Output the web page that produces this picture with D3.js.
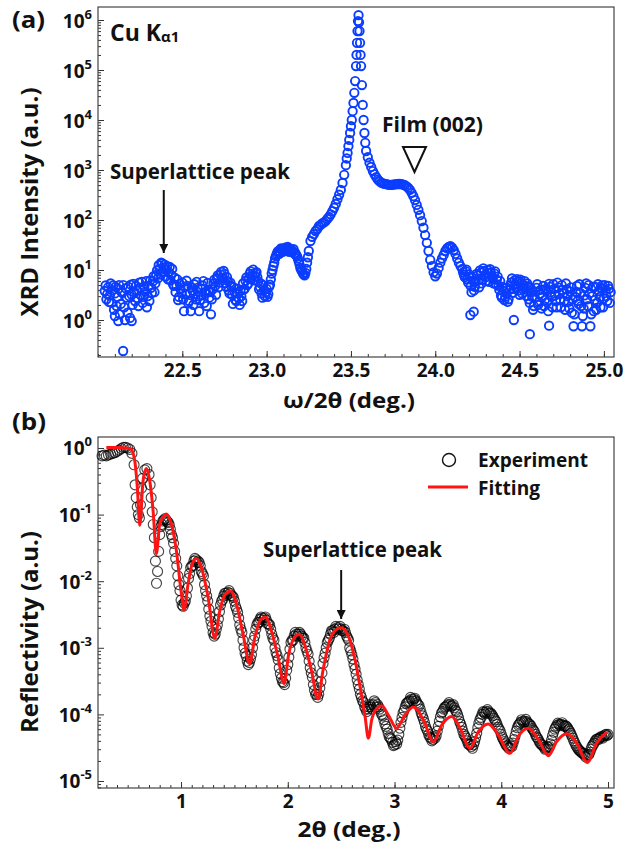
<!DOCTYPE html>
<html><head><meta charset="utf-8">
<script src="https://cdn.jsdelivr.net/npm/d3@7"></script>
<style>
html,body{margin:0;padding:0;background:#fff;}
svg{display:block;}
text{font-family:"Open Sans",sans-serif;font-weight:700;fill:#111;}
</style></head><body>
<svg id="chart" width="626" height="851"></svg>
<script>
// ---------- Panel (a): XRD omega/2theta scan ----------
const xrdScan = [
[22.04,3.8],[22.05,2.6],[22.06,4.5],[22.07,3.1],[22.08,2.2],[22.09,4.9],[22.10,3.4],[22.11,1.9],[22.12,4.2],[22.13,1.3],
[22.14,3.6],[22.15,5.0],[22.16,1.0],[22.17,2.8],[22.18,4.6],[22.19,1.1],[22.20,3.2],[22.21,5.3],[22.22,2.4],[22.23,3.9],
[22.24,1.9],[22.25,4.4],[22.26,5.8],[22.27,2.9],[22.28,3.7],[22.29,1.8],[22.30,4.8],[22.31,6.2],[22.32,3.5],[22.33,7.5],
[22.34,5.4],[22.35,9.8],[22.36,12.5],[22.37,8.1],[22.38,13.5],[22.39,11.2],[22.40,7.4],[22.41,12.0],[22.42,9.0],[22.43,6.2],
[22.44,10.5],[22.45,4.8],[22.46,3.6],[22.47,6.5],[22.48,2.9],[22.49,4.1],[22.50,5.6],[22.51,1.5],[22.52,3.3],[22.53,4.8],
[22.54,2.4],[22.55,1.5],[22.56,3.9],[22.57,5.2],[22.58,2.6],[22.59,4.4],[22.60,1.5],[22.61,3.1],[22.62,4.9],[22.63,2.2],
[22.64,3.7],[22.65,5.5],[22.66,2.8],[22.67,1.3],[22.68,4.1],[22.69,6.4],[22.70,3.2],[22.71,7.8],[22.72,5.6],[22.73,9.2],
[22.74,6.9],[22.75,8.4],[22.76,4.6],[22.77,6.0],[22.78,3.4],[22.79,4.8],[22.80,2.1],[22.81,3.6],[22.82,2.4],[22.83,4.2],
[22.84,2.0],[22.85,3.0],[22.86,5.4],[22.87,4.2],[22.88,7.1],[22.89,5.3],[22.90,8.5],[22.91,6.6],[22.92,10.2],[22.93,7.4],
[22.94,9.1],[22.95,5.9],[22.96,4.6],[22.97,3.4],[22.98,5.0],[22.99,3.0],[23.00,4.2],[23.01,3.3],[23.02,5.1],[23.03,8.5],
[23.04,12],[23.05,17],[23.06,21],[23.07,24],[23.08,22],[23.09,26],[23.10,25],[23.11,28],[23.12,24],[23.13,27],
[23.14,25],[23.15,23],[23.16,26],[23.17,22],[23.18,19],[23.19,15],[23.20,11],[23.21,9.5],[23.22,8.2],[23.23,8.8],
[23.24,14],[23.25,24],[23.26,38],[23.27,46],[23.28,52],[23.29,60],[23.30,66],[23.31,75],[23.32,80],[23.33,86],
[23.34,90],[23.35,95],[23.36,105],[23.37,115],[23.38,130],[23.39,150],[23.40,175],[23.41,210],[23.42,260],[23.43,320],
[23.44,400],[23.45,550],[23.46,800],[23.47,1250],[23.475,1700],[23.48,2200],[23.485,3000],[23.49,4000],[23.495,5500],[23.50,7500],
[23.505,1.0e4],[23.51,1.5e4],[23.515,2.2e4],[23.52,3.5e4],[23.525,6e4],[23.53,1.2e5],[23.533,2.0e5],[23.536,3.5e5],[23.539,6e5],[23.542,9.5e5],
[23.545,1.25e6],[23.548,9e5],[23.551,6e5],[23.554,3.5e5],[23.557,2.0e5],[23.56,1.2e5],[23.565,5e4],[23.57,2e4],[23.575,1e4],[23.58,5500],
[23.585,3500],[23.59,2400],[23.60,1800],[23.61,1400],[23.62,1150],[23.63,950],[23.64,820],[23.65,720],[23.66,640],[23.67,590],
[23.68,560],[23.69,540],[23.70,530],[23.71,520],[23.72,510],[23.73,505],[23.74,505],[23.75,510],[23.76,515],[23.77,520],
[23.78,525],[23.79,525],[23.80,520],[23.81,510],[23.82,495],[23.83,470],[23.84,440],[23.85,400],[23.86,350],[23.87,300],
[23.88,250],[23.89,200],[23.90,160],[23.91,125],[23.92,95],[23.93,70],[23.94,50],[23.95,35],[23.96,24],[23.97,16],
[23.98,12],[23.99,9],[24.00,7.5],[24.01,8.5],[24.02,11],[24.03,14],[24.04,17],[24.05,20],[24.06,24],[24.07,27],
[24.08,29],[24.09,30],[24.10,28],[24.11,25],[24.12,21],[24.13,17],[24.14,14],[24.15,12],[24.16,10.5],[24.17,8.0],
[24.18,9.5],[24.19,6.5],[24.20,8.2],[24.21,4.8],[24.22,7.0],[24.23,3.9],[24.24,5.9],[24.25,7.8],[24.26,4.5],[24.27,8.9],
[24.28,6.4],[24.29,9.6],[24.30,7.2],[24.31,10.0],[24.32,5.8],[24.33,9.0],[24.34,6.9],[24.35,8.6],[24.36,5.2],[24.37,7.4],
[24.38,4.0],[24.39,3.1],[24.40,4.6],[24.41,2.5],[24.42,3.4],[24.43,2.3],[24.44,4.0],[24.45,5.6],[24.46,3.5],[24.47,6.2],
[24.48,4.4],[24.49,5.9],[24.50,3.2],[24.51,5.5],[24.52,4.1],[24.53,6.0],[24.54,3.0],[24.55,4.7],[24.56,2.2],[24.57,3.6],
[24.58,1.6],[24.59,2.8],[24.60,4.4],[24.61,2.0],[24.62,3.3],[24.63,1.7],[24.64,4.8],[24.65,2.5],[24.66,3.9],[24.67,1.5],
[24.68,4.6],[24.69,2.9],[24.70,5.2],[24.71,3.1],[24.72,1.8],[24.73,4.5],[24.74,2.6],[24.75,5.0],[24.76,3.4],[24.77,1.6],
[24.78,4.1],[24.79,2.3],[24.80,3.7],[24.81,1.4],[24.82,0.75],[24.83,2.9],[24.84,4.8],[24.85,2.1],[24.86,3.5],[24.87,0.75],
[24.88,1.7],[24.89,4.4],[24.90,2.6],[24.91,5.0],[24.92,0.75],[24.93,3.0],[24.94,1.5],[24.95,4.6],[24.96,2.2],[24.97,3.8],
[24.98,1.8],[24.99,4.9],[25.00,2.7],[25.01,3.9],[25.02,2.4],[25.03,4.2],[25.04,3.6]
];
// intermediate scan points in the noisy / plateau regions
const xrdScanFill = [
[22.045,4.9],[22.055,3.3],[22.065,2.3],[22.075,5.4],[22.085,3.9],[22.095,1.6],[22.105,4.6],[22.115,2.9],[22.125,5.0],[22.135,2.1],
[22.145,3.5],[22.155,1.8],[22.165,4.3],[22.175,1.4],[22.185,3.0],[22.195,5.1],[22.205,2.0],[22.215,3.6],[22.225,4.8],[22.235,2.7],
[22.245,5.6],[22.255,3.1],[22.265,2.2],[22.275,4.7],[22.285,6.0],[22.295,3.0],[22.305,2.4],[22.315,4.4],[22.325,5.9],[22.335,3.6],
[22.345,8.0],[22.355,6.8],[22.365,10.5],[22.375,14.0],[22.385,9.2],[22.395,12.8],[22.405,10.0],[22.415,6.5],[22.425,11.5],[22.435,8.0],
[22.445,5.2],[22.455,7.0],[22.465,4.9],[22.475,2.5],[22.485,5.3],[22.495,3.4],[22.505,2.6],[22.515,4.6],[22.525,6.1],[22.535,2.2],
[22.545,3.5],[22.555,4.5],[22.565,2.0],[22.575,3.3],[22.585,5.8],[22.595,3.0],[22.605,2.5],[22.615,4.2],[22.625,6.0],[22.635,3.4],
[22.645,1.9],[22.655,4.0],[22.665,3.6],[22.675,2.6],[22.685,5.4],[22.695,4.8],[22.705,6.9],[22.715,4.5],[22.725,8.2],[22.735,7.0],
[22.745,9.6],[22.755,5.5],[22.765,7.2],[22.775,3.9],[22.785,5.6],[22.795,3.2],[22.805,4.5],[22.815,2.5],[22.825,3.4],[22.835,2.7],
[22.845,3.8],[22.855,2.4],[22.865,4.1],[22.875,6.1],[22.885,5.0],[22.895,6.8],[22.905,9.4],[22.915,8.0],[22.925,6.2],[22.935,8.6],
[22.945,7.2],[22.955,4.1],[22.965,5.4],[22.975,2.8],[22.985,4.0],[22.995,3.6],[23.005,2.9],[23.015,4.6],[23.025,6.5],[23.035,10.0],
[23.045,14],[23.055,19],[23.065,23],[23.075,21],[23.085,27],[23.095,23],[23.105,27],[23.115,25],[23.125,29],[23.135,23],
[23.145,26],[23.155,24],[23.165,21],[23.175,20],[23.185,17],[23.195,13],[23.205,10],[23.215,8.6],[23.225,7.8],[23.235,10.5],[23.245,18],
[24.165,9.0],[24.175,7.2],[24.185,10.2],[24.195,5.6],[24.205,7.4],[24.215,3.6],[24.225,6.1],[24.235,4.6],[24.245,8.4],[24.255,6.2],
[24.265,9.8],[24.275,5.4],[24.285,10.8],[24.295,8.0],[24.305,6.0],[24.315,8.6],[24.325,10.4],[24.335,7.6],[24.345,5.4],[24.355,9.4],
[24.365,6.4],[24.375,4.8],[24.385,6.0],[24.395,2.8],[24.405,3.8],[24.415,2.9],[24.425,4.4],[24.435,2.6],[24.445,4.9],[24.455,6.8],
[24.465,4.2],[24.475,5.2],[24.485,6.6],[24.495,3.9],[24.505,6.4],[24.515,3.4],[24.525,5.0],[24.535,4.4],[24.545,5.4],[24.555,2.6],
[24.565,4.4],[24.575,2.9],[24.585,1.9],[24.595,3.7],[24.605,5.2],[24.615,2.3],[24.625,4.0],[24.635,2.9],[24.645,1.9],[24.655,4.2],
[24.665,2.3],[24.675,5.3],[24.685,3.6],[24.695,1.8],[24.705,4.2],[24.715,2.4],[24.725,5.6],[24.735,3.3],[24.745,1.8],[24.755,4.0],
[24.765,2.4],[24.775,5.4],[24.785,3.0],[24.795,1.7],[24.805,4.5],[24.815,2.6],[24.825,1.3],[24.835,3.6],[24.845,2.4],[24.855,5.2],
[24.865,1.9],[24.875,1.2],[24.885,3.1],[24.895,5.4],[24.905,1.9],[24.915,3.4],[24.925,1.3],[24.935,4.6],[24.945,2.5],[24.955,1.6],
[24.965,5.2],[24.975,2.9],[24.985,4.4],[24.995,1.8],[25.005,5.0],[25.015,3.0],[25.025,4.8],[25.035,2.2]
];
const xrdOutliers = [
[22.149,0.24],[22.10,1.2],[22.12,0.95],[22.20,0.95],[24.208,1.26],[24.228,1.47],[24.466,1.0],[24.561,0.52],[24.675,0.77]
];
const xrdXTicks = [22.5, 23.0, 23.5, 24.0, 24.5, 25.0];
const xrdXTickLabels = ["22.5","23.0","23.5","24.0","24.5","25.0"];
const xrdYTicks = [1, 10, 100, 1e3, 1e4, 1e5, 1e6];
const xrdYTickExponents = ["0","1","2","3","4","5","6"];

// ---------- Panel (b): X-ray reflectivity ----------
const xrrExperiment = [
[0.26,0.76],[0.28,0.78],[0.30,0.76],[0.32,0.79],[0.34,0.81],[0.36,0.83],[0.38,0.85],[0.40,0.89],[0.42,0.93],[0.44,0.98],
[0.46,1.02],[0.48,1.02],[0.50,1.0],[0.52,0.95],[0.54,0.83],[0.56,0.56],[0.57,0.28],[0.58,0.18],[0.59,0.13],[0.60,0.10],
[0.61,0.089],[0.62,0.14],[0.63,0.25],[0.64,0.35],[0.66,0.47],[0.68,0.49],[0.70,0.40],[0.71,0.28],[0.72,0.18],[0.73,0.11],
[0.74,0.071],[0.75,0.045],[0.76,0.020],[0.77,0.0093],[0.78,0.014],[0.79,0.028],[0.80,0.050],[0.82,0.071],[0.84,0.083],[0.86,0.083],
[0.88,0.076],[0.90,0.060],[0.92,0.045],[0.94,0.028],[0.96,0.017],[0.98,0.0089],[1.00,0.0052],[1.02,0.0042],[1.04,0.0050],[1.06,0.0079],
[1.08,0.013],[1.10,0.017],[1.12,0.020],[1.14,0.021],[1.16,0.020],[1.18,0.017],[1.20,0.013],[1.22,0.0089],[1.24,0.0060],[1.26,0.0038],
[1.28,0.0025],[1.30,0.0017],[1.32,0.0016],[1.34,0.0022],[1.36,0.0035],[1.38,0.0050],[1.40,0.0060],[1.42,0.0066],[1.44,0.0068],[1.46,0.0066],
[1.48,0.0060],[1.50,0.0050],[1.52,0.0038],[1.54,0.0028],[1.56,0.0019],[1.58,0.0013],[1.60,0.00083],[1.62,0.00063],[1.64,0.00060],[1.66,0.00079],
[1.68,0.0013],[1.70,0.0019],[1.72,0.0024],[1.74,0.0027],[1.76,0.0028],[1.78,0.0028],[1.80,0.0026],[1.82,0.0023],[1.84,0.0019],[1.86,0.0014],
[1.88,0.0010],[1.90,0.00076],[1.92,0.00050],[1.94,0.00035],[1.96,0.00030],[1.98,0.00035],[2.00,0.00056],[2.02,0.00095],[2.04,0.0013],[2.06,0.0015],
[2.08,0.0016],[2.10,0.0016],[2.12,0.0016],[2.14,0.0014],[2.16,0.0012],[2.18,0.00089],[2.20,0.00063],[2.22,0.00042],[2.24,0.00028],[2.26,0.00020],
[2.28,0.00018],[2.30,0.00025],[2.32,0.00042],[2.34,0.00071],[2.36,0.0010],[2.38,0.0013],[2.40,0.0016],[2.42,0.0018],[2.44,0.0019],[2.46,0.0020],
[2.48,0.0020],[2.50,0.0019],[2.52,0.0018],[2.54,0.0017],[2.56,0.0014],[2.58,0.0010],[2.60,0.00079],[2.62,0.00056],[2.64,0.00040],[2.66,0.00028],
[2.68,0.00020],[2.70,0.00016],[2.72,0.00013],[2.74,0.00011],[2.76,0.00013],[2.78,0.00013],[2.80,0.00014],[2.82,0.00015],[2.84,0.00014],[2.86,0.00012],
[2.88,0.00010],[2.90,8.3e-5],[2.92,6.6e-5],[2.94,5.2e-5],[2.96,4.4e-5],[2.98,3.8e-5],[3.00,3.5e-5],[3.02,3.6e-5],[3.04,5.0e-5],[3.06,7.6e-5],
[3.08,1.05e-4],[3.10,1.3e-4],[3.12,1.5e-4],[3.14,1.6e-4],[3.16,1.7e-4],[3.18,1.7e-4],[3.20,1.6e-4],[3.22,1.4e-4],[3.24,1.2e-4],[3.26,9.5e-5],
[3.28,7.6e-5],[3.30,6.0e-5],[3.32,5.0e-5],[3.34,4.4e-5],[3.36,4.2e-5],[3.38,4.4e-5],[3.40,5.6e-5],[3.42,7.9e-5],[3.44,1.05e-4],[3.46,1.2e-4],
[3.48,1.3e-4],[3.50,1.4e-4],[3.52,1.4e-4],[3.54,1.35e-4],[3.56,1.26e-4],[3.58,1.1e-4],[3.60,8.9e-5],[3.62,7.1e-5],[3.64,5.6e-5],[3.66,4.7e-5],
[3.68,4.0e-5],[3.70,3.5e-5],[3.72,3.3e-5],[3.74,3.5e-5],[3.76,4.5e-5],[3.78,6.3e-5],[3.80,8.3e-5],[3.82,1.0e-4],[3.84,1.07e-4],[3.86,1.1e-4],
[3.88,1.1e-4],[3.90,1.05e-4],[3.92,9.5e-5],[3.94,8.3e-5],[3.96,7.1e-5],[3.98,6.0e-5],[4.00,5.0e-5],[4.02,4.2e-5],[4.04,3.6e-5],[4.06,3.3e-5],
[4.08,3.2e-5],[4.10,3.3e-5],[4.12,4.2e-5],[4.14,5.6e-5],[4.16,6.9e-5],[4.18,7.6e-5],[4.20,7.9e-5],[4.22,7.9e-5],[4.24,7.8e-5],[4.26,7.2e-5],
[4.28,6.6e-5],[4.30,5.8e-5],[4.32,5.0e-5],[4.34,4.4e-5],[4.36,3.8e-5],[4.38,3.5e-5],[4.40,3.2e-5],[4.42,3.1e-5],[4.44,3.2e-5],[4.46,3.6e-5],
[4.48,4.8e-5],[4.50,6.0e-5],[4.52,6.8e-5],[4.54,7.1e-5],[4.56,7.1e-5],[4.58,6.9e-5],[4.60,6.8e-5],[4.62,6.3e-5],[4.64,5.6e-5],[4.66,4.8e-5],
[4.68,4.0e-5],[4.70,3.4e-5],[4.72,3.0e-5],[4.74,2.8e-5],[4.76,2.6e-5],[4.78,2.5e-5],[4.80,2.4e-5],[4.82,2.5e-5],[4.84,3.0e-5],[4.86,3.5e-5],
[4.88,4.0e-5],[4.90,4.3e-5],[4.92,4.4e-5],[4.94,4.6e-5],[4.96,4.7e-5],[4.98,5.0e-5],[5.00,5.0e-5]
];
// intermediate measured points (band spread)
const xrrExperimentFill = [
[0.81,0.066],[0.83,0.080],[0.85,0.087],[0.87,0.078],[0.89,0.070],[0.91,0.050],[0.93,0.037],[0.95,0.022],[0.97,0.012],[0.99,0.0072],
[1.01,0.0044],[1.03,0.0047],[1.05,0.0060],[1.07,0.011],[1.09,0.016],[1.11,0.017],[1.13,0.022],[1.15,0.019],[1.17,0.019],[1.19,0.014],
[1.21,0.012],[1.23,0.0072],[1.25,0.0050],[1.27,0.0030],[1.29,0.0021],[1.31,0.0015],[1.33,0.0019],[1.35,0.0027],[1.37,0.0044],[1.39,0.0053],
[1.41,0.0066],[1.43,0.0062],[1.45,0.0072],[1.47,0.0061],[1.49,0.0057],[1.51,0.0042],[1.53,0.0034],[1.55,0.0022],[1.57,0.0017],[1.59,0.0010],
[1.61,0.00075],[1.63,0.00056],[1.65,0.00068],[1.67,0.0010],[1.69,0.0015],[1.71,0.0022],[1.73,0.0024],[1.75,0.0029],[1.77,0.0026],[1.79,0.0029],
[1.81,0.0023],[1.83,0.0022],[1.85,0.0016],[1.87,0.0013],[1.89,0.00085],[1.91,0.00066],[1.93,0.00041],[1.95,0.00031],[1.97,0.00028],[1.99,0.00046],
[2.01,0.00072],[2.03,0.0012],[2.05,0.0013],[2.07,0.0017],[2.09,0.0015],[2.11,0.0017],[2.13,0.0015],[2.15,0.0014],[2.17,0.0010],[2.19,0.00080],
[2.21,0.00050],[2.23,0.00036],[2.25,0.00023],[2.27,0.00020],[2.29,0.00020],[2.31,0.00031],[2.33,0.00058],[2.35,0.00083],[2.37,0.0012],[2.39,0.0014],
[2.41,0.0018],[2.43,0.0017],[2.45,0.0021],[2.47,0.0019],[2.49,0.0021],[2.51,0.0018],[2.53,0.0019],[2.55,0.0015],[2.57,0.0013],[2.59,0.00090],
[2.61,0.00068],[2.63,0.00048],[2.65,0.00033],[2.67,0.00024],[2.69,0.00018],[2.71,0.00015],[2.73,0.00012],[2.75,0.00012],[2.77,0.00014],[2.79,0.00012],
[2.81,0.00016],[2.83,0.00013],[2.85,0.00013],[2.87,0.00011],[2.89,9.5e-5],[2.91,7.2e-5],[2.93,6.0e-5],[2.95,4.6e-5],[2.97,4.2e-5],[2.99,3.4e-5],
[3.01,3.9e-5],[3.03,4.1e-5],[3.05,6.2e-5],[3.07,9.0e-5],[3.09,1.15e-4],[3.11,1.45e-4],[3.13,1.55e-4],[3.15,1.8e-4],[3.17,1.6e-4],[3.19,1.75e-4],
[3.21,1.5e-4],[3.23,1.35e-4],[3.25,1.05e-4],[3.27,8.6e-5],[3.29,6.6e-5],[3.31,5.6e-5],[3.33,4.6e-5],[3.35,4.0e-5],[3.37,4.6e-5],[3.39,4.8e-5],
[3.41,6.6e-5],[3.43,9.2e-5],[3.45,1.1e-4],[3.47,1.28e-4],[3.49,1.35e-4],[3.51,1.5e-4],[3.53,1.32e-4],[3.55,1.4e-4],[3.57,1.15e-4],[3.59,1.0e-4],
[3.61,7.8e-5],[3.63,6.4e-5],[3.65,5.0e-5],[3.67,4.4e-5],[3.69,3.6e-5],[3.71,3.6e-5],[3.73,3.1e-5],[3.75,3.9e-5],[3.77,5.2e-5],[3.79,7.4e-5],
[3.81,9.0e-5],[3.83,1.1e-4],[3.85,1.02e-4],[3.87,1.18e-4],[3.89,1.04e-4],[3.91,1.0e-4],[3.93,8.8e-5],[3.95,7.8e-5],[3.97,6.4e-5],[3.99,5.6e-5],
[4.01,4.5e-5],[4.03,3.9e-5],[4.05,3.4e-5],[4.07,3.1e-5],[4.09,3.4e-5],[4.11,3.7e-5],[4.13,4.8e-5],[4.15,6.3e-5],[4.17,7.2e-5],[4.19,8.3e-5],
[4.21,7.5e-5],[4.23,8.4e-5],[4.25,7.4e-5],[4.27,7.0e-5],[4.29,6.1e-5],[4.31,5.5e-5],[4.33,4.6e-5],[4.35,4.1e-5],[4.37,3.6e-5],[4.39,3.4e-5],
[4.41,3.0e-5],[4.43,3.3e-5],[4.45,3.3e-5],[4.47,4.1e-5],[4.49,5.4e-5],[4.51,6.4e-5],[4.53,7.4e-5],[4.55,6.8e-5],[4.57,7.5e-5],[4.59,6.6e-5],
[4.61,6.6e-5],[4.63,5.9e-5],[4.65,5.2e-5],[4.67,4.4e-5],[4.69,3.7e-5],[4.71,3.2e-5],[4.73,2.9e-5],[4.75,2.7e-5],[4.77,2.6e-5],[4.79,2.3e-5],
[4.81,2.5e-5],[4.83,2.7e-5],[4.85,3.3e-5],[4.87,3.7e-5],[4.89,4.2e-5],[4.91,4.2e-5],[4.93,4.6e-5],[4.95,4.4e-5],[4.97,4.9e-5],[4.99,4.8e-5]
];
const xrrFit = [
[0.30,1.02],[0.40,1.02],[0.50,1.0],[0.53,0.97],[0.566,0.65],[0.59,0.26],[0.613,0.069],[0.644,0.32],[0.675,0.49],[0.707,0.32],
[0.738,0.115],[0.769,0.026],[0.80,0.072],[0.831,0.091],[0.862,0.102],[0.909,0.072],[0.956,0.029],[1.003,0.0065],[1.028,0.0037],[1.066,0.0091],
[1.103,0.018],[1.144,0.022],[1.19,0.016],[1.253,0.0058],[1.316,0.0014],[1.363,0.0036],[1.41,0.0062],[1.465,0.0071],[1.518,0.0046],[1.581,0.0016],
[1.643,0.00058],[1.69,0.0014],[1.737,0.0025],[1.79,0.0029],[1.846,0.0018],[1.909,0.00072],[1.965,0.00029],[2.009,0.00081],[2.059,0.0014],[2.112,0.0016],
[2.159,0.0011],[2.221,0.00046],[2.283,0.00017],[2.33,0.00046],[2.393,0.0013],[2.44,0.0018],[2.496,0.0020],[2.567,0.0015],[2.63,0.00066],[2.677,0.00026],
[2.724,9.3e-5],[2.755,4.4e-5],[2.786,8.3e-5],[2.833,1.23e-4],[2.88,1.35e-4],[2.942,9.8e-5],[3.02,6.2e-5],[3.098,9.8e-5],[3.176,1.29e-4],[3.27,8.3e-5],
[3.364,3.9e-5],[3.442,6.9e-5],[3.536,9.3e-5],[3.614,6.2e-5],[3.707,3.1e-5],[3.785,5.5e-5],[3.879,7.2e-5],[3.972,4.9e-5],[4.082,2.6e-5],[4.16,4.7e-5],
[4.253,6.2e-5],[4.347,4.2e-5],[4.441,2.4e-5],[4.519,3.9e-5],[4.613,5.1e-5],[4.707,3.7e-5],[4.806,1.9e-5],[4.894,3.7e-5],[4.988,5.4e-5]
];
const xrrXTicks = [1, 2, 3, 4, 5];
const xrrXTickLabels = ["1","2","3","4","5"];
const xrrYTicks = [1, 0.1, 0.01, 1e-3, 1e-4, 1e-5];
const xrrYTickExponents = ["0","-1","-2","-3","-4","-5"];
const legendLabels = ["Experiment", "Fitting"];

// ---------- drawing ----------
const svg = d3.select("#chart");
const boxA = {l:98, r:614, t:7, b:357};
const boxB = {l:98, r:614, t:437, b:788};

const xA = d3.scaleLinear().domain([22.0, 25.06]).range([boxA.l, boxA.r]);
const yA = d3.scaleLog().domain([0.182, 1.82e6]).range([boxA.b, boxA.t]);
const xB = d3.scaleLinear().domain([0.222, 5.056]).range([boxB.l, boxB.r]);
const yB = d3.scaleLog().domain([7.85e-6, 1.462]).range([boxB.b, boxB.t]);

function fitWidth(sel, w){ sel.attr("textLength", w).attr("lengthAdjust", "spacingAndGlyphs"); return sel; }

function axes(box, x, y, xTicks, xLabels, yTicks, yExps, xMinor, xPad){
  const g = svg.append("g");
  const gxm = g.append("g").attr("transform",`translate(0,${box.b})`)
    .call(d3.axisBottom(x).tickValues(xMinor).tickSize(-3).tickFormat(""));
  gxm.select(".domain").remove();
  const gx = g.append("g").attr("transform",`translate(0,${box.b})`)
    .call(d3.axisBottom(x).tickValues(xTicks).tickSizeInner(-6).tickSizeOuter(0).tickPadding(xPad)
      .tickFormat((d,i)=>xLabels[i]));
  gx.select(".domain").remove();
  gx.selectAll("text").attr("font-size",19).attr("font-family",null).style("fill","#111");
  const minorY = y.ticks().filter(v => !yTicks.some(t => Math.abs(t - v)/t < 1e-6));
  const gym = g.append("g").attr("transform",`translate(${box.l},0)`)
    .call(d3.axisLeft(y).tickValues(minorY).tickSize(-3).tickFormat(""));
  gym.select(".domain").remove();
  const gy = g.append("g").attr("transform",`translate(${box.l},0)`)
    .call(d3.axisLeft(y).tickValues(yTicks).tickSizeInner(-6).tickSizeOuter(0).tickPadding(6).tickFormat(""));
  gy.select(".domain").remove();
  gy.selectAll(".tick").each(function(d,i){
    const t = d3.select(this).select("text");
    t.attr("font-size",19).attr("font-family",null).attr("dy",null).attr("y",7).style("fill","#111");
    t.append("tspan").text("10");
    t.append("tspan").attr("font-size",13).attr("dy",-9).text(yExps[i]);
  });
  g.selectAll(".tick line").attr("stroke","#333");
  svg.append("rect").attr("x",box.l).attr("y",box.t).attr("width",box.r-box.l).attr("height",box.b-box.t)
    .attr("fill","none").attr("stroke","#444").attr("stroke-width",1.2);
}

axes(boxA, xA, yA, xrdXTicks, xrdXTickLabels, xrdYTicks, xrdYTickExponents, xA.ticks(30), 7);
axes(boxB, xB, yB, xrrXTicks, xrrXTickLabels, xrrYTicks, xrrYTickExponents, xB.ticks(48), 7);

// Panel (a) data
svg.append("g").selectAll("circle").data(xrdScan.concat(xrdScanFill, xrdOutliers)).join("circle")
  .attr("cx", d => xA(d[0])).attr("cy", d => yA(d[1])).attr("r", 4.2)
  .attr("fill","none").attr("stroke","#0b3dff").attr("stroke-width",1.9);

// Panel (b) data
svg.append("g").selectAll("circle").data(xrrExperiment.concat(xrrExperimentFill)).join("circle")
  .attr("cx", d => xB(d[0])).attr("cy", d => yB(d[1])).attr("r", 5)
  .attr("fill","none").attr("stroke","#000").attr("stroke-opacity",0.72).attr("stroke-width",1.15);
svg.append("path").datum(xrrFit)
  .attr("d", d3.line().x(d => xB(d[0])).y(d => yB(d[1])).curve(d3.curveMonotoneX))
  .attr("fill","none").attr("stroke","#ff1414").attr("stroke-width",3).attr("stroke-linejoin","round");

// Panel labels
fitWidth(svg.append("text").attr("x",12).attr("y",28).attr("font-size",24).text("(a)"), 33);
fitWidth(svg.append("text").attr("x",12).attr("y",430).attr("font-size",24).text("(b)"), 34);

// Axis titles
fitWidth(svg.append("text").attr("transform","translate(38,202) rotate(-90)").attr("text-anchor","middle")
  .attr("font-size",24).text("XRD Intensity (a.u.)"), 229);
fitWidth(svg.append("text").attr("transform","translate(38,632) rotate(-90)").attr("text-anchor","middle")
  .attr("font-size",24).text("Reflectivity (a.u.)"), 202);
fitWidth(svg.append("text").attr("x",349).attr("y",408).attr("text-anchor","middle")
  .attr("font-size",22).text("ω/2θ (deg.)"), 132);
fitWidth(svg.append("text").attr("x",349).attr("y",837).attr("text-anchor","middle")
  .attr("font-size",22).text("2θ (deg.)"), 103);

// Annotations panel (a)
const cu = svg.append("text").attr("x",110).attr("y",41).attr("font-size",23);
cu.append("tspan").text("Cu K");
cu.append("tspan").attr("font-size",15).attr("dy",1).text("α1");
fitWidth(svg.append("text").attr("x",110).attr("y",179).attr("font-size",22).text("Superlattice peak"), 180);
fitWidth(svg.append("text").attr("x",382).attr("y",132).attr("font-size",22).text("Film (002)"), 101);

svg.append("defs").append("marker").attr("id","ah").attr("viewBox","0 0 10 10").attr("refX",10).attr("refY",5)
  .attr("markerWidth",4.5).attr("markerHeight",4.5).attr("markerUnits","strokeWidth").attr("orient","auto")
  .append("path").attr("d","M0,0 L10,5 L0,10 Z").attr("fill","#111");

function arrow(x, y1, y2){
  svg.append("line").attr("x1",x).attr("x2",x).attr("y1",y1).attr("y2",y2)
    .attr("stroke","#111").attr("stroke-width",2).attr("marker-end","url(#ah)");
}
arrow(xA(22.39), 190, 253);
svg.append("path").attr("d","M403,147 L426,147 L414.5,172 Z").attr("fill","none").attr("stroke","#111").attr("stroke-width",2);

// Annotations panel (b)
fitWidth(svg.append("text").attr("x",263).attr("y",557).attr("font-size",22).text("Superlattice peak"), 179);
arrow(xB(2.5), 570, 619);

// Legend
svg.append("circle").attr("cx",449).attr("cy",460).attr("r",6.5).attr("fill","none").attr("stroke","#111").attr("stroke-width",1.4);
fitWidth(svg.append("text").attr("x",478).attr("y",467).attr("font-size",20).text(legendLabels[0]), 110);
svg.append("line").attr("x1",428).attr("x2",468).attr("y1",487).attr("y2",487).attr("stroke","#ff1414").attr("stroke-width",3);
fitWidth(svg.append("text").attr("x",478).attr("y",495).attr("font-size",20).text(legendLabels[1]), 62);
</script>
</body></html>
